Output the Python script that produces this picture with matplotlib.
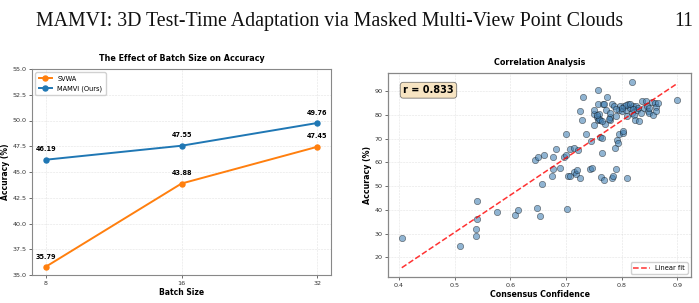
import numpy as np
import matplotlib
matplotlib.use("Agg")
import matplotlib.pyplot as plt

# ---- data: left chart ----
batch_sizes = ["8", "16", "32"]
svwa = [35.79, 43.88, 47.45]
mamvi = [46.19, 47.55, 49.76]

# ---- data: right chart (scatter) ----
conf = [0.405, 0.51, 0.538, 0.538, 0.54, 0.54, 0.577, 0.609, 0.613, 0.648,
        0.653, 0.702, 0.657, 0.645, 0.65, 0.66, 0.676, 0.675, 0.677, 0.683,
        0.69, 0.697, 0.70, 0.701, 0.703, 0.708, 0.708, 0.715, 0.715, 0.718,
        0.72, 0.722, 0.726, 0.725, 0.728, 0.73, 0.736, 0.743, 0.745, 0.747,
        0.75, 0.75, 0.751, 0.758, 0.757, 0.756, 0.758, 0.76, 0.762, 0.762,
        0.763, 0.764, 0.765, 0.766, 0.768, 0.768, 0.77, 0.772, 0.774, 0.779,
        0.78, 0.78, 0.782, 0.784, 0.783, 0.787, 0.789, 0.79, 0.79, 0.792,
        0.794, 0.795, 0.795, 0.798, 0.80, 0.802, 0.803, 0.805, 0.808, 0.81,
        0.81, 0.812, 0.815, 0.818, 0.818, 0.82, 0.822, 0.825, 0.826, 0.828,
        0.83, 0.832, 0.835, 0.836, 0.84, 0.843, 0.846, 0.848, 0.85, 0.855,
        0.857, 0.86, 0.862, 0.862, 0.865, 0.90, 0.808, 0.815, 0.82, 0.80,
        0.79, 0.778, 0.76, 0.765, 0.755, 0.85]
acc = [28.2, 24.8, 29.0, 32.0, 36.0, 43.8, 39.0, 37.8, 40.0, 40.8,
       37.6, 40.6, 50.8, 61.0, 62.5, 63.0, 62.5, 54.5, 57.2, 65.5,
       57.5, 62.5, 63.2, 71.8, 54.2, 54.5, 65.6, 66.0, 55.8, 55.0,
       57.0, 65.4, 53.6, 81.5, 78.0, 87.5, 71.8, 57.2, 69.2, 57.6,
       76.0, 80.5, 82.0, 90.5, 84.5, 79.0, 78.0, 80.5, 78.0, 70.6,
       54.0, 64.2, 70.3, 84.5, 84.8, 52.8, 76.3, 82.0, 87.5, 78.0,
       79.0, 81.0, 53.5, 54.2, 84.8, 84.0, 66.0, 57.4, 79.5, 69.3,
       68.0, 72.0, 82.0, 84.0, 81.5, 72.5, 73.2, 84.0, 82.0, 53.6,
       79.5, 84.5, 83.0, 93.8, 81.0, 84.0, 80.0, 78.0, 84.0, 82.0,
       83.0, 77.5, 81.0, 85.8, 83.0, 86.0, 84.0, 81.5, 81.0, 85.5,
       80.2, 85.0, 83.5, 81.8, 85.2, 86.2, 84.3, 84.8, 82.5, 83.0,
       82.5, 78.5, 78.5, 77.5, 80.0, 83.0]
r_text = "r = 0.833"

header = "MAMVI: 3D Test-Time Adaptation via Masked Multi-View Point Clouds"
page_no = "11"

W, H = 699, 303
fig = plt.figure(figsize=(W / 100, H / 100), dpi=100)
fig.patch.set_facecolor("white")

def ax_rect(l, t, r, b):
    return [l / W, (H - b) / H, (r - l) / W, (b - t) / H]

fig.text(36 / W, 1 - 26 / H, header, family="Liberation Serif", fontsize=14.3,
         va="baseline", ha="left", color="#111111")
fig.text(693 / W, 1 - 26 / H, page_no, family="Liberation Serif", fontsize=14.3,
         va="baseline", ha="right", color="#111111")

# ---- left chart ----
ax1 = fig.add_axes(ax_rect(32, 69, 331, 275))
x = np.arange(len(batch_sizes))
ax1.plot(x, svwa, "-o", color="#ff7f0e", lw=1.4, ms=3.6, label="SVWA")
ax1.plot(x, mamvi, "-o", color="#1f77b4", lw=1.4, ms=3.6, label="MAMVI (Ours)")
for xi, v in zip(x, svwa):
    ax1.annotate(f"{v:.2f}", (xi, v), textcoords="offset points", xytext=(0, 6),
                 ha="center", fontsize=4.7, fontweight="bold")
for xi, v in zip(x, mamvi):
    ax1.annotate(f"{v:.2f}", (xi, v), textcoords="offset points", xytext=(0, 6),
                 ha="center", fontsize=4.7, fontweight="bold")
ax1.set_xticks(x)
ax1.set_xticklabels(batch_sizes)
ax1.set_xlim(-0.1, 2.1)
ax1.set_ylim(35, 55)
ax1.set_yticks(np.arange(35, 55.1, 2.5))
ax1.tick_params(labelsize=4.6, length=2, width=0.5, pad=2, colors="#333333")
ax1.set_xlabel("Batch Size", fontsize=5.5, fontweight="bold", labelpad=2)
ax1.set_ylabel("Accuracy (%)", fontsize=5.5, fontweight="bold", labelpad=2)
ax1.set_title("The Effect of Batch Size on Accuracy", fontsize=5.8, fontweight="bold", pad=6)
ax1.grid(True, ls="--", lw=0.4, alpha=0.35)
for s in ax1.spines.values():
    s.set_color("#888888")
    s.set_linewidth(0.8)
ax1.legend(loc="upper left", fontsize=4.8, frameon=True, borderpad=0.5,
           handlelength=2.0, labelspacing=0.5, framealpha=0.9, edgecolor="#cccccc")

# ---- right chart ----
ax2 = fig.add_axes(ax_rect(388, 73, 691, 277))
ax2.scatter(conf, acc, s=21, c="steelblue", alpha=0.6, edgecolors="black",
            linewidths=0.4, zorder=3)
coef = np.polyfit(conf, acc, 1)
xs = np.linspace(min(conf), max(conf), 100)
ax2.plot(xs, np.polyval(coef, xs), "r--", lw=1.1, alpha=0.8, label="Linear fit", zorder=4)
ax2.text(0.05, 0.94, r_text, transform=ax2.transAxes, fontsize=7, fontweight="bold",
         va="top", ha="left",
         bbox=dict(boxstyle="round,pad=0.3", facecolor="wheat", alpha=0.8, edgecolor="#555555", linewidth=0.6))
ax2.set_xticks([0.4, 0.5, 0.6, 0.7, 0.8, 0.9])
ax2.set_yticks([20, 30, 40, 50, 60, 70, 80, 90])
ax2.tick_params(labelsize=4.6, length=2, width=0.5, pad=2, colors="#333333")
ax2.set_xlabel("Consensus Confidence", fontsize=5.7, fontweight="bold", labelpad=2)
ax2.set_ylabel("Accuracy (%)", fontsize=5.7, fontweight="bold", labelpad=2)
ax2.set_title("Correlation Analysis", fontsize=5.8, fontweight="bold", pad=6)
ax2.grid(True, ls="--", lw=0.4, alpha=0.35)
for s in ax2.spines.values():
    s.set_color("#888888")
    s.set_linewidth(0.9)
ax2.legend(loc="lower right", fontsize=4.8, frameon=True, handlelength=2.5,
           framealpha=0.9, edgecolor="#cccccc")

fig.savefig("out.png", dpi=100, facecolor="white")
